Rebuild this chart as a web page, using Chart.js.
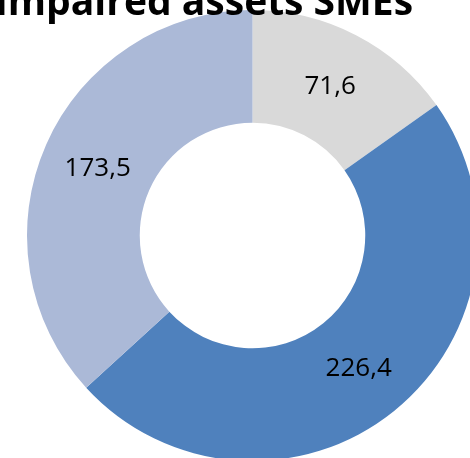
<!DOCTYPE html>
<html>
<head>
<meta charset="utf-8">
<script src="https://cdn.jsdelivr.net/npm/chart.js@4"></script>
<style>
  html, body { margin: 0; padding: 0; background: #fff; overflow: hidden; width: 470px; height: 458px; }
  #wrap { position: absolute; left: 0; top: 0; }
</style>
</head>
<body>
<div id="wrap"><canvas id="cv" width="504" height="470"></canvas></div>
<script>
  // data
  const title = 'Impaired assets SMEs';
  const labels = ['Segment A', 'Segment B', 'Segment C'];
  const values = [71.6, 226.4, 173.5];
  const colors = ['#d9d9d9', '#4f81bd', '#abb9d7'];

  const fmt = (n) => n.toLocaleString('nl-NL', { minimumFractionDigits: 1, maximumFractionDigits: 1 });

  // small label + title plugin (no datalabels lib available offline)
  const sliceLabels = {
    id: 'sliceLabels',
    afterDatasetsDraw(chart) {
      const ctx = chart.ctx;
      const meta = chart.getDatasetMeta(0);
      ctx.save();
      ctx.fillStyle = '#000';
      ctx.font = '26px "Open Sans", sans-serif';
      ctx.textAlign = 'center';
      ctx.textBaseline = 'middle';
      meta.data.forEach((arc, i) => {
        const p = arc.getCenterPoint();
        ctx.fillText(fmt(values[i]), p.x, p.y + 1);
      });
      ctx.font = 'bold 39px "Open Sans", sans-serif';
      ctx.textBaseline = 'alphabetic';
      ctx.fillText(title, 204, 15);
      ctx.restore();
    }
  };

  new Chart(document.getElementById('cv').getContext('2d'), {
    type: 'doughnut',
    data: { labels, datasets: [{ data: values, backgroundColor: colors, borderWidth: 0 }] },
    options: {
      responsive: false,
      animation: false,
      cutout: '50%',
      layout: { padding: { top: 10, bottom: 9, left: 27, right: 26 } },
      plugins: { legend: { display: false }, tooltip: { enabled: false }, title: { display: false } },
    },
    plugins: [sliceLabels],
  });
</script>
</body>
</html>
